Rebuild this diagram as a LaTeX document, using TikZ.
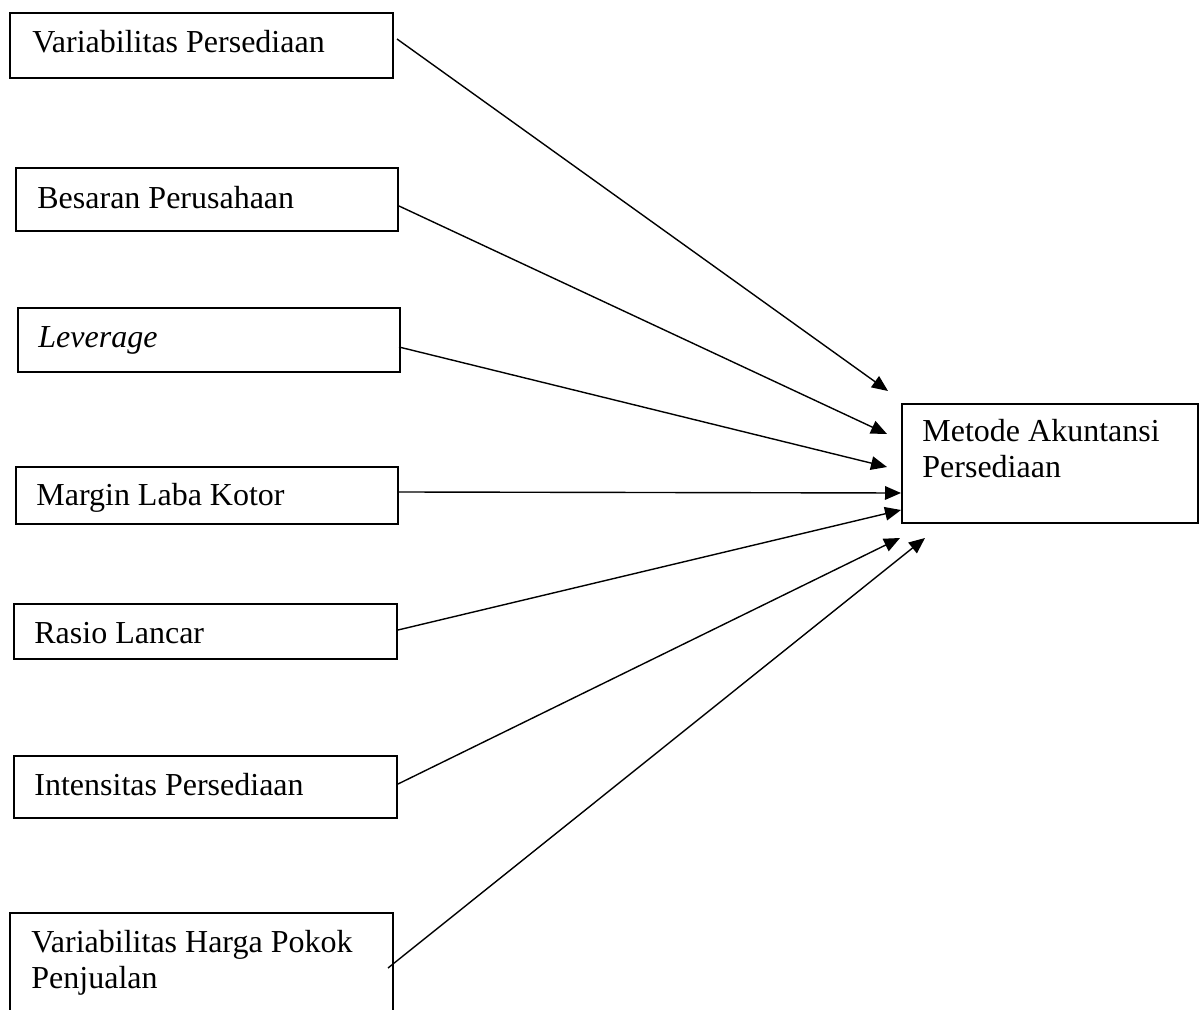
\documentclass[tikz,border=0pt]{standalone}
\usepackage{fontspec}
\setmainfont{Liberation Serif}
\usetikzlibrary{arrows.meta,calc}
\tikzset{
  boxnode/.style={draw, line width=1pt, inner sep=0pt, anchor=north west},
  lbl/.style={anchor=base west, inner sep=0pt, font=\fontsize{16pt}{18pt}\selectfont, align=left},
  conn/.style={line width=0.7pt, -{Triangle[length=8pt,width=6.8pt]}}
}
\begin{document}
\begin{tikzpicture}[x=0.5pt,y=-0.5pt]
\useasboundingbox (0,0) rectangle (1200,1010);
\clip (0,0) rectangle (1200,1010);
% boxes
\node[boxnode, minimum width=191.5pt, minimum height=32.5pt] (b1) at (9,12) {};
\node[boxnode, minimum width=191pt, minimum height=31.5pt] (b2) at (15,167) {};
\node[boxnode, minimum width=191pt, minimum height=32pt] (b3) at (17,307) {};
\node[boxnode, minimum width=191pt, minimum height=28.5pt] (b4) at (15,466) {};
\node[boxnode, minimum width=191.5pt, minimum height=27.5pt] (b5) at (13,603) {};
\node[boxnode, minimum width=191.5pt, minimum height=31pt] (b6) at (13,755) {};
\node[boxnode, minimum width=191.5pt, minimum height=60pt] (b7) at (9,912) {};
\node[boxnode, minimum width=148pt, minimum height=59.5pt] (t) at (901,403) {};
% labels (multi-line nodes are placed by the baseline of their last line)
\node[lbl] (l1) at ($(b1.north west)+(23,41)$) {Variabilitas Persediaan};
\node[lbl] (l2) at ($(b2.north west)+(22,42)$) {Besaran Perusahaan};
\node[lbl] (l3) at ($(b3.north west)+(21,41)$) {\textit{Leverage}};
\node[lbl] (l4) at ($(b4.north west)+(21,40)$) {Margin Laba Kotor};
\node[lbl] (l5) at ($(b5.north west)+(21,40)$) {Rasio Lancar};
\node[lbl] (l6) at ($(b6.north west)+(21,40)$) {Intensitas Persediaan};
\node[lbl] (l7) at ($(b7.north west)+(22,76)$) {Variabilitas Harga Pokok\\Penjualan};
\node[lbl] (lt) at ($(t.north west)+(21,75)$) {Metode Akuntansi\\Persediaan};
% connector end points
\coordinate (s1) at ($(b1.north east)+(3,27)$);
\coordinate (s2) at ($(b2.north east)+(0,39)$);
\coordinate (s3) at ($(b3.north east)+(-2,40)$);
\coordinate (s4) at ($(b4.north east)+(0,26)$);
\coordinate (s5) at ($(b5.north east)+(0,27)$);
\coordinate (s6) at ($(b6.north east)+(0,29)$);
\coordinate (s7) at ($(b7.north east)+(-6,56)$);
\coordinate (e1) at ($(t.north west)+(-13,-12)$);
\coordinate (e2) at ($(t.north west)+(-14,31)$);
\coordinate (e3) at ($(t.north west)+(-14,64)$);
\coordinate (e4) at ($(t.north west)+(0,90)$);
\coordinate (e5) at ($(t.north west)+(0,107)$);
\coordinate (e6) at ($(t.south west)+(-1,14)$);
\coordinate (e7) at ($(t.south west)+(24,14)$);
% connectors
\draw[conn] (s1) -- (e1);
\draw[conn] (s2) -- (e2);
\draw[conn] (s3) -- (e3);
\draw[conn] (s4) -- (e4);
\draw[conn] (s5) -- (e5);
\draw[conn] (s6) -- (e6);
\draw[conn] (s7) -- (e7);
\end{tikzpicture}
\end{document}
